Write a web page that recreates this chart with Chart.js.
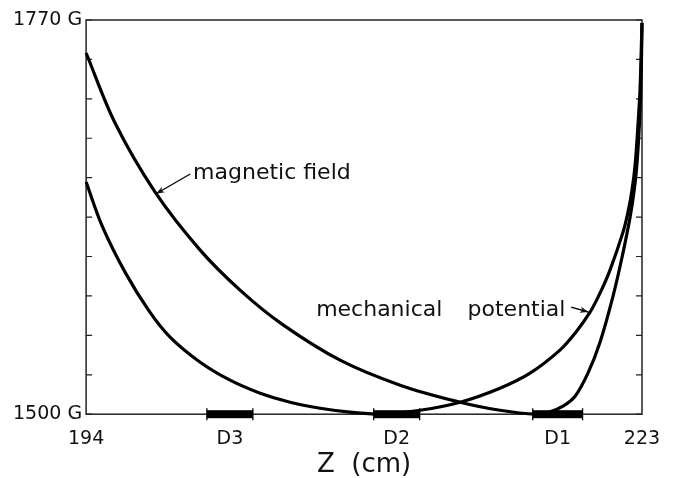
<!DOCTYPE html>
<html>
<head>
<meta charset="utf-8">
<script src="https://cdn.jsdelivr.net/npm/chart.js@4.4.0/dist/chart.umd.min.js"></script>
<style>
  html, body { margin: 0; padding: 0; background: #fff; }
  #wrap { position: relative; width: 676px; height: 478px; }
</style>
</head>
<body>
<div id="wrap"><canvas id="grafico"></canvas></div>
<script>
// Z positions (cm) and field / potential values (G)
const zMag = [194, 195.51, 197.6, 199.95, 202.03, 204.22, 207.25, 210.38, 213.51, 215.59, 217.42, 218.2, 218.88, 219.51, 220.18, 220.81, 221.49, 221.96, 222.37, 222.58, 222.74, 222.9, 222.97, 223];
const gMag = [1747.4, 1699.4, 1652.1, 1612.4, 1585, 1561.7, 1537, 1519.9, 1508.2, 1502.7, 1500, 1501.7, 1505.5, 1512.3, 1528.1, 1549.3, 1580.9, 1607.6, 1634.3, 1652.1, 1672, 1708.3, 1741.2, 1768];

const zMech = [194, 194.84, 196.03, 197.29, 198.38, 199.95, 201.51, 203.08, 204.64, 206.21, 207.77, 209.34, 211.42, 213.51, 215.59, 217.16, 218.72, 219.51, 220.29, 220.81, 221.33, 222.01, 222.27, 222.48, 222.64, 222.79, 222.9, 223];
const gMech = [1659, 1628.8, 1597.3, 1570.6, 1552.8, 1535.6, 1523.3, 1514.4, 1508.2, 1504.1, 1501.4, 1500, 1502.7, 1508.2, 1517.8, 1528.1, 1543.9, 1555.5, 1569.9, 1582.9, 1598.7, 1624.7, 1638.4, 1653.5, 1670.6, 1698, 1723.4, 1768];

// detector positions along Z (cm)
const detNames = ['D3', 'D2', 'D1'];
const detStart = [200.3, 209.0, 217.3];
const detEnd = [202.7, 211.4, 219.9];

// axis ticks
const yTicks = [1500, 1527, 1554, 1581, 1608, 1635, 1662, 1689, 1716, 1743, 1770];
const yTickLabels = ['1500 G', '', '', '', '', '', '', '', '', '', '1770 G'];
const xTicks = [194].concat(detStart.map((s, i) => (s + detEnd[i]) / 2), [223]);
const xTickLabels = ['194'].concat(detNames, ['223']);

const fuente = '"DejaVu Sans", sans-serif';
const tinta = '#111';

// marco, marcas interiores, detectores y anotaciones
const decor = {
  id: 'decor',
  beforeDatasetsDraw(chart) {
    const { ctx, chartArea: a, scales } = chart;
    ctx.save();
    ctx.strokeStyle = '#222';
    ctx.lineWidth = 1.5;
    ctx.strokeRect(a.left, a.top, a.right - a.left, a.bottom - a.top);
    ctx.lineWidth = 1.2;
    yTicks.forEach((v) => {
      const y = scales.y.getPixelForValue(v);
      ctx.beginPath();
      ctx.moveTo(a.left, y); ctx.lineTo(a.left + 6, y);
      ctx.moveTo(a.right, y); ctx.lineTo(a.right - 6, y);
      ctx.stroke();
    });
    ctx.restore();
  },
  afterDatasetsDraw(chart) {
    const { ctx, chartArea: a, scales } = chart;
    const sx = scales.x, sy = scales.y;
    ctx.save();
    ctx.fillStyle = '#000';
    ctx.strokeStyle = '#000';
    // detectores
    detStart.forEach((s, i) => {
      const x0 = sx.getPixelForValue(s);
      const x1 = sx.getPixelForValue(detEnd[i]);
      ctx.fillRect(x0, a.bottom - 4, x1 - x0, 8);
      ctx.lineWidth = 1.3;
      ctx.beginPath();
      ctx.moveTo(x0, a.bottom - 6); ctx.lineTo(x0, a.bottom + 6);
      ctx.moveTo(x1, a.bottom - 6); ctx.lineTo(x1, a.bottom + 6);
      ctx.stroke();
    });

    // textos
    ctx.font = '22px ' + fuente;
    ctx.fillStyle = tinta;
    ctx.textBaseline = 'alphabetic';
    ctx.textAlign = 'left';
    ctx.fillText('magnetic field', sx.getPixelForValue(199.58), sy.getPixelForValue(1661));
    ctx.fillText('mechanical', sx.getPixelForValue(206.0), sy.getPixelForValue(1567.2));
    ctx.fillText('potential', sx.getPixelForValue(213.9), sy.getPixelForValue(1567.2));

    // flechas
    const flecha = (z0, g0, z1, g1) => {
      const x0 = sx.getPixelForValue(z0), y0 = sy.getPixelForValue(g0);
      const x1 = sx.getPixelForValue(z1), y1 = sy.getPixelForValue(g1);
      const ang = Math.atan2(y1 - y0, x1 - x0);
      ctx.lineWidth = 1.3;
      ctx.beginPath();
      ctx.moveTo(x0, y0); ctx.lineTo(x1, y1);
      ctx.stroke();
      ctx.beginPath();
      ctx.moveTo(x1, y1);
      ctx.lineTo(x1 - 9 * Math.cos(ang - 0.35), y1 - 9 * Math.sin(ang - 0.35));
      ctx.lineTo(x1 - 6 * Math.cos(ang), y1 - 6 * Math.sin(ang));
      ctx.lineTo(x1 - 9 * Math.cos(ang + 0.35), y1 - 9 * Math.sin(ang + 0.35));
      ctx.closePath();
      ctx.fill();
    };
    flecha(199.43, 1664.5, 197.65, 1651);
    flecha(219.3, 1573.3, 220.2, 1570);
    ctx.restore();
  }
};

const grafico = document.getElementById('grafico');
new Chart(grafico, {
  type: 'line',
  data: {
    datasets: [
      {
        label: 'magnetic field',
        data: zMag.map((z, i) => ({ x: z, y: gMag[i] })),
        borderColor: '#000',
        borderWidth: 3.2,
        pointRadius: 0,
        tension: 0.35,
        fill: false,
        clip: 4
      },
      {
        label: 'mechanical potential',
        data: zMech.map((z, i) => ({ x: z, y: gMech[i] })),
        borderColor: '#000',
        borderWidth: 3.2,
        pointRadius: 0,
        tension: 0.35,
        fill: false,
        clip: 4
      }
    ]
  },
  options: {
    responsive: true,
    maintainAspectRatio: false,
    animation: false,
    layout: { padding: { left: 9, right: 34, top: 20, bottom: 0 } },
    plugins: { legend: { display: false }, tooltip: { enabled: false } },
    scales: {
      x: {
        type: 'linear',
        min: 194,
        max: 223,
        afterBuildTicks: (axis) => { axis.ticks = xTicks.map((v) => ({ value: v })); },
        ticks: {
          autoSkip: false,
          maxRotation: 0,
          padding: 13,
          color: tinta,
          font: { family: fuente, size: 19 },
          callback: (v, i) => xTickLabels[i]
        },
        grid: { display: false, drawTicks: false },
        border: { display: false },
        title: {
          display: true,
          text: 'Z  (cm)',
          color: tinta,
          font: { family: fuente, size: 26, lineHeight: 1 },
          padding: { top: -11, bottom: 0 }
        }
      },
      y: {
        min: 1500,
        max: 1770,
        afterBuildTicks: (axis) => { axis.ticks = yTicks.map((v) => ({ value: v })); },
        ticks: {
          autoSkip: false,
          padding: 4,
          color: tinta,
          font: { family: fuente, size: 19 },
          callback: (v, i) => yTickLabels[i]
        },
        grid: { display: false, drawTicks: false },
        border: { display: false }
      }
    }
  },
  plugins: [decor]
});
</script>
</body>
</html>
